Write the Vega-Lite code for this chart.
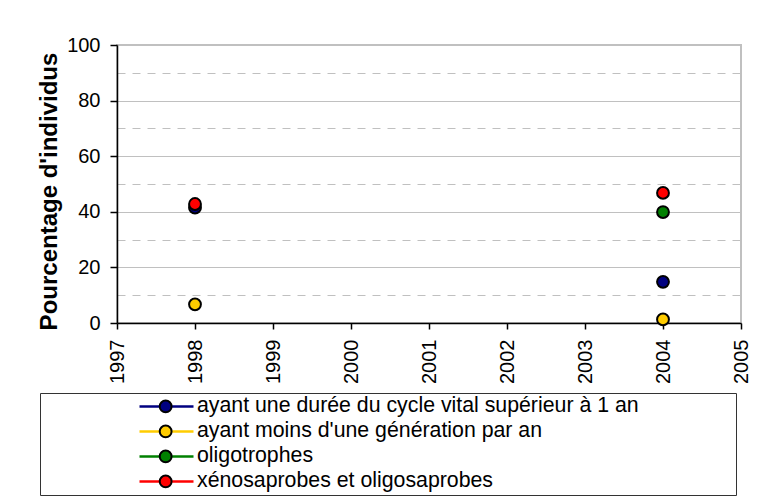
{
  "$schema": "https://vega.github.io/schema/vega-lite/v6.json",
  "width": 624,
  "height": 278,
  "autosize": {"type": "none"},
  "padding": {"left": 117, "top": 45, "right": 19, "bottom": 175},
  "background": "white",
  "config": {
    "font": "Liberation Sans",
    "view": {"stroke": "#c0c0c0", "strokeWidth": 2},
    "axis": {"labelFont": "Liberation Sans", "labelColor": "black", "titleColor": "black", "domainColor": "black", "tickColor": "black", "domainWidth": 1.5, "tickWidth": 1.5}
  },
  "data": {
    "values": [
      {"year": 1998, "series": "ayant une durée du cycle vital supérieur à 1 an", "value": 41.5},
      {"year": 2004, "series": "ayant une durée du cycle vital supérieur à 1 an", "value": 14.8},
      {"year": 1998, "series": "ayant moins d'une génération par an", "value": 6.7},
      {"year": 2004, "series": "ayant moins d'une génération par an", "value": 1.3},
      {"year": 2004, "series": "oligotrophes", "value": 39.9},
      {"year": 1998, "series": "xénosaprobes et oligosaprobes", "value": 42.8},
      {"year": 2004, "series": "xénosaprobes et oligosaprobes", "value": 46.8}
    ]
  },
  "encoding": {
    "x": {
      "field": "year", "type": "quantitative",
      "scale": {"domain": [1997, 2005], "nice": false, "zero": false},
      "axis": {"values": [1997, 1998, 1999, 2000, 2001, 2002, 2003, 2004, 2005], "format": "d", "labelAngle": -90, "labelAlign": "right", "labelBaseline": "middle", "labelFontSize": 20, "labelPadding": 10, "tickSize": 6, "grid": false, "title": null}
    },
    "y": {
      "field": "value", "type": "quantitative",
      "scale": {"domain": [0, 100], "nice": false},
      "axis": {
        "values": [0, 10, 20, 30, 40, 50, 60, 70, 80, 90, 100],
        "labelExpr": "datum.value % 20 === 0 ? datum.label : ''",
        "labelFontSize": 20, "labelPadding": 10, "tickSize": 7,
        "tickOpacity": {"condition": {"test": "datum.value % 20 !== 0", "value": 0}, "value": 1},
        "grid": true, "gridColor": "#c0c0c0", "gridWidth": 1,
        "gridDash": {"condition": {"test": "datum.value % 20 !== 0", "value": [8, 7]}, "value": []},
        "title": "Pourcentage d'individus", "titleFontSize": 24, "titleFontWeight": "bold", "titlePadding": 5, "titleY": 146
      }
    }
  },
  "layer": [
    {
      "mark": {"type": "line", "opacity": 0, "strokeWidth": 2.5},
      "encoding": {
        "color": {
          "field": "series", "type": "nominal",
          "scale": {"domain": ["ayant une durée du cycle vital supérieur à 1 an", "ayant moins d'une génération par an", "oligotrophes", "xénosaprobes et oligosaprobes"], "range": ["#000080", "#FFCC00", "#008000", "#FF0000"]},
          "legend": {"orient": "none", "legendX": 21, "legendY": 349, "title": null, "symbolType": "stroke", "symbolSize": 2916, "symbolStrokeWidth": 2.5, "labelFontSize": 21.3, "labelFont": "Liberation Sans", "labelColor": "black", "labelOffset": 2, "clipHeight": 24.8, "rowPadding": 0, "padding": 0, "labelLimit": 700}
        }
      }
    },
    {
      "mark": {"type": "point", "filled": true, "size": 140, "stroke": "black", "strokeWidth": 2, "opacity": 1},
      "encoding": {
        "fill": {
          "field": "series", "type": "nominal",
          "sort": ["ayant une durée du cycle vital supérieur à 1 an", "ayant moins d'une génération par an", "oligotrophes", "xénosaprobes et oligosaprobes"],
          "scale": {"range": ["#000080", "#FFCC00", "#008000", "#FF0000"]},
          "legend": {"orient": "none", "legendX": -77, "legendY": 348, "title": null, "symbolType": "circle", "symbolSize": 140, "symbolStrokeColor": "black", "symbolStrokeWidth": 2, "symbolOffset": 114, "labelExpr": "''", "labelFontSize": 21.3, "labelFont": "Liberation Sans", "labelOffset": 558, "clipHeight": 24.8, "rowPadding": 0, "padding": 1, "strokeColor": "#333333", "labelLimit": 700}
        }
      }
    }
  ]
}
